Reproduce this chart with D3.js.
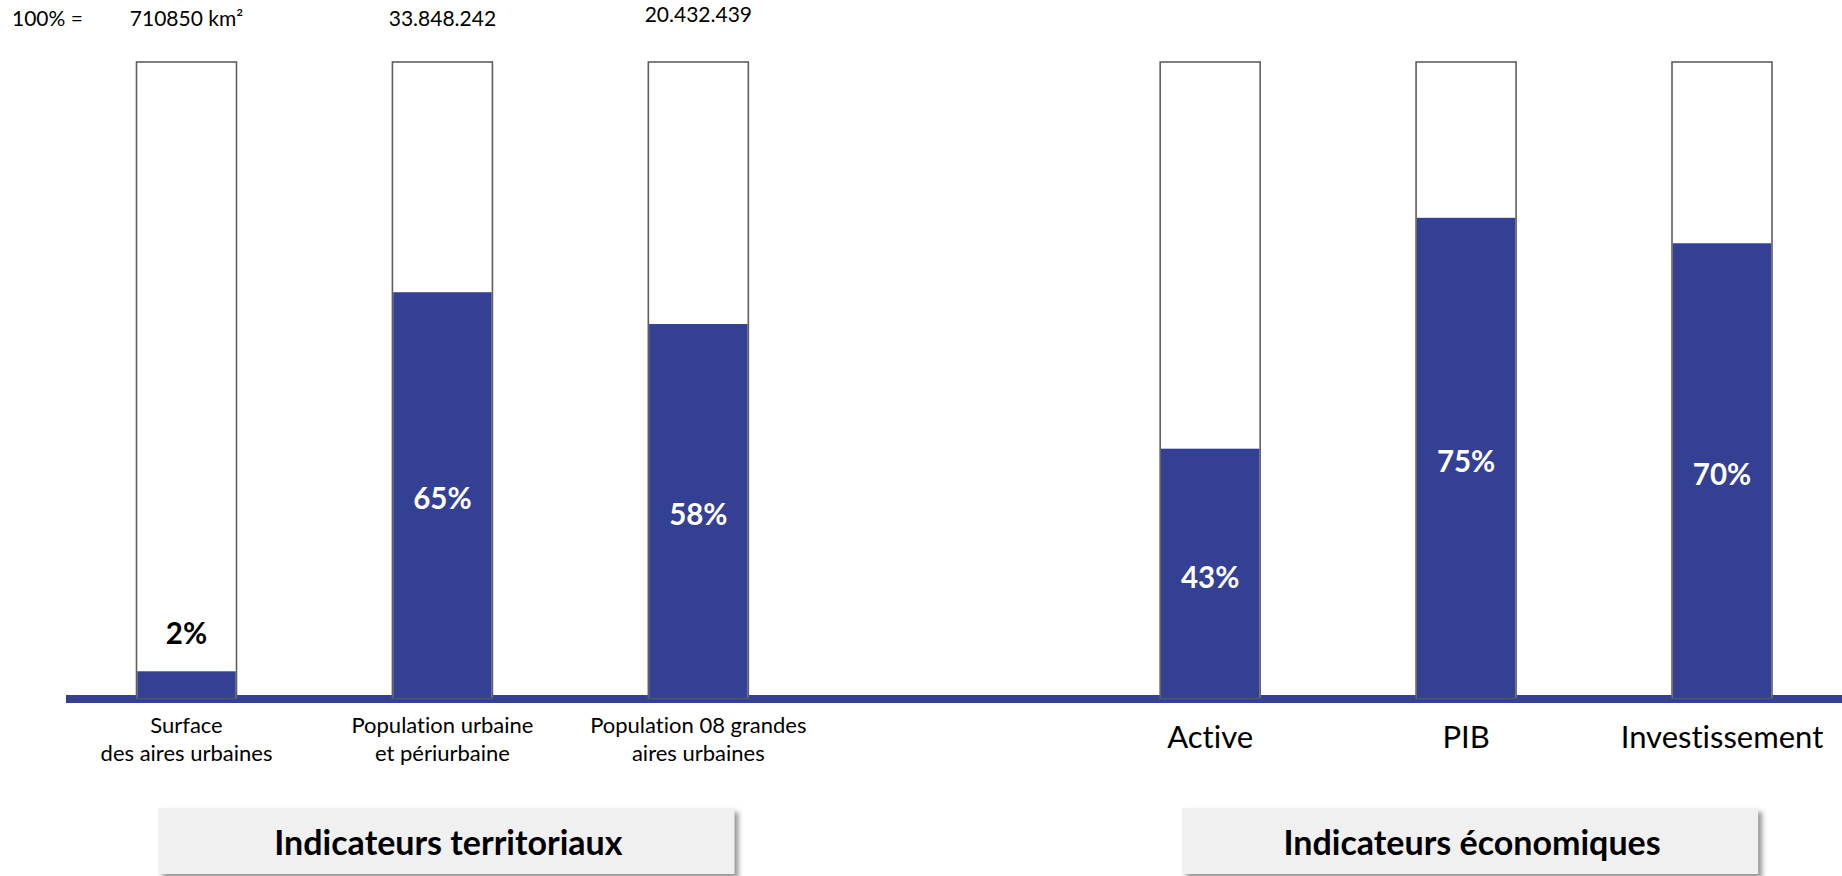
<!DOCTYPE html>
<html>
<head>
<meta charset="utf-8">
<script src="https://cdn.jsdelivr.net/npm/d3@7"></script>
<style>
  html, body { margin: 0; padding: 0; background: #fff; }
  svg { display: block; font-family: Lato, "Open Sans", sans-serif; font-variant-ligatures: none; }
</style>
</head>
<body>
<div id="chart"></div>
<script>
// categories (one entry per bar, lines split with "|")
const categories = [
  "Surface|des aires urbaines",
  "Population urbaine|et périurbaine",
  "Population 08 grandes|aires urbaines",
  "Active",
  "PIB",
  "Investissement"
];
const groupOf = [0, 0, 0, 1, 1, 1];
const groupNames = ["Indicateurs territoriaux", "Indicateurs économiques"];
// filled share of each bar, as drawn
const shares = [0.042, 0.638, 0.588, 0.392, 0.755, 0.715];
const shareLabels = ["2%", "65%", "58%", "43%", "75%", "70%"];
// 100% base of each bar
const totals = ["710850 km²", "33.848.242", "20.432.439", "", "", ""];

const width = 1842, height = 876;
const blue = "#334094";

const svg = d3.select("#chart").append("svg")
  .attr("width", width)
  .attr("height", height)
  .attr("viewBox", [0, 0, width, height]);

const defs = svg.append("defs");
defs.append("filter")
  .attr("id", "shadow")
  .attr("x", "-5%").attr("y", "-20%")
  .attr("width", "115%").attr("height", "150%")
  .append("feDropShadow")
  .attr("dx", 4).attr("dy", 4)
  .attr("stdDeviation", 2.5)
  .attr("flood-color", "#7a7a7a")
  .attr("flood-opacity", 0.8);

// x: point scale with an empty slot between the two groups
const slots = categories.slice(0, 3).concat(["__gap"], categories.slice(3));
const x = d3.scalePoint()
  .domain(slots)
  .range([186.5, 1722]);
const barW = 100;

const y = d3.scaleLinear()
  .domain([0, 1])
  .range([698, 62]);

const bars = categories.map((c, i) => ({
  cat: c,
  lines: c.split("|"),
  group: groupOf[i],
  share: shares[i],
  label: shareLabels[i],
  total: totals[i]
}));

// baseline
svg.append("rect")
  .attr("x", 66)
  .attr("y", y(0) - 3)
  .attr("width", width - 66)
  .attr("height", 8)
  .attr("fill", blue);

// bar frames
const g = svg.append("g")
  .selectAll("g")
  .data(bars)
  .join("g");

g.append("rect")
  .attr("x", d => x(d.cat) - barW / 2)
  .attr("y", y(1))
  .attr("width", barW)
  .attr("height", y(0) - y(1))
  .attr("fill", "#fff")
  .attr("stroke", "#5f5f5f")
  .attr("stroke-width", 1.6);

// filled part
g.append("rect")
  .attr("x", d => x(d.cat) - barW / 2 + 0.8)
  .attr("y", d => y(d.share))
  .attr("width", barW - 1.6)
  .attr("height", d => y(0) - y(d.share))
  .attr("fill", blue);

// share labels
g.append("text")
  .attr("x", d => x(d.cat))
  .attr("y", d => d.share < 0.1 ? y(d.share) - 38 : (y(d.share) + y(0)) / 2 + 4)
  .attr("dy", "0.35em")
  .attr("text-anchor", "middle")
  .attr("font-size", 29.5)
  .attr("font-weight", 700)
  .attr("fill", d => d.share < 0.1 ? "#000" : "#fff")
  .text(d => d.label);

// 100% = totals
svg.append("text")
  .attr("x", 12)
  .attr("y", 26)
  .attr("font-size", 21)
  .text("100% =");

g.filter(d => d.total)
  .append("text")
  .attr("x", d => x(d.cat))
  .attr("y", (d, i) => i === 2 ? 22 : 26)
  .attr("text-anchor", "middle")
  .attr("font-size", 21)
  .text(d => d.total);

// category labels
g.append("text")
  .attr("text-anchor", "middle")
  .attr("font-size", d => d.group === 0 ? 22 : 31)
  .selectAll("tspan")
  .data(d => d.lines.map((t, k) => ({t, k, d})))
  .join("tspan")
  .attr("x", e => x(e.d.cat))
  .attr("y", e => e.d.group === 0 ? 733 + e.k * 28 : 748)
  .text(e => e.t);

// group boxes
const groups = groupNames.map((name, gi) => {
  const members = bars.filter(b => b.group === gi);
  return {name, cx: x(members[1].cat)};
});

const boxW = 576, boxTop = 808, boxH = 66;
const gb = svg.append("g")
  .selectAll("g")
  .data(groups)
  .join("g");

gb.append("rect")
  .attr("x", d => d.cx - boxW / 2 + 4)
  .attr("y", boxTop)
  .attr("width", boxW)
  .attr("height", boxH)
  .attr("fill", "#f0f0f0")
  .attr("filter", "url(#shadow)");

gb.append("text")
  .attr("x", d => d.cx + 6)
  .attr("y", 855)
  .attr("text-anchor", "middle")
  .attr("font-size", 34)
  .attr("font-weight", 700)
  .attr("fill", "#000")
  .text(d => d.name);
</script>
</body>
</html>
